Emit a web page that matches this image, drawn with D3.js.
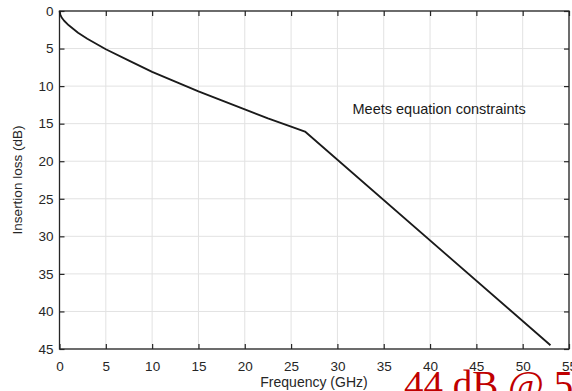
<!DOCTYPE html>
<html>
<head>
<meta charset="utf-8">
<script src="https://cdn.jsdelivr.net/npm/d3@7"></script>
<style>
  body { margin: 0; background: #fff; overflow: hidden; }
  svg { display: block; font-family: "Liberation Sans", Arial, sans-serif; }
</style>
</head>
<body>
<div id="chart"></div>
<script>
// insertion loss curve (GHz, dB)
const freq = [0, 0.1, 0.25, 0.5, 1, 1.5, 2, 3, 4, 5, 7.5, 10, 12.5, 15, 17.5, 20, 22.5, 25, 26.5, 53];
const loss = [0, 0.5, 0.9, 1.3, 1.9, 2.4, 2.9, 3.7, 4.4, 5.1, 6.6, 8.1, 9.4, 10.7, 11.9, 13.1, 14.3, 15.4, 16.05, 44.5];
const xTicks = [0, 5, 10, 15, 20, 25, 30, 35, 40, 45, 50, 55];
const yTicks = [0, 5, 10, 15, 20, 25, 30, 35, 40, 45];

const data = freq.map((f, i) => ({f: f, v: loss[i]}));

// set the dimensions and margins of the graph
const margin = {top: 11, right: 3, bottom: 42, left: 59.5};
const width = 572 - margin.left - margin.right;
const height = 391 - margin.top - margin.bottom;

const svg = d3.select("#chart")
  .append("svg")
    .attr("width", 572)
    .attr("height", 391);

const g = svg.append("g")
    .attr("transform", `translate(${margin.left},${margin.top})`);

const x = d3.scaleLinear().domain([0, 55]).range([0, width]);
const y = d3.scaleLinear().domain([0, 45]).range([0, height]);

// grid
g.append("g")
  .selectAll("line")
  .data(xTicks)
  .join("line")
    .attr("x1", d => x(d)).attr("x2", d => x(d))
    .attr("y1", 0).attr("y2", height)
    .attr("stroke", "#e2e2e2");
g.append("g")
  .selectAll("line")
  .data(yTicks)
  .join("line")
    .attr("y1", d => y(d)).attr("y2", d => y(d))
    .attr("x1", 0).attr("x2", width)
    .attr("stroke", "#e2e2e2");

// axes
const axisColor = "#262626";
const styleAxis = sel => {
  sel.select(".domain").remove();
  sel.selectAll(".tick line").attr("stroke", axisColor).attr("stroke-width", 1.2);
  sel.selectAll(".tick text").attr("fill", axisColor).style("font-size", "13.5px");
};

g.append("g")
  .attr("transform", `translate(0,${height})`)
  .call(d3.axisBottom(x).tickValues(xTicks).tickSizeInner(-5).tickSizeOuter(0).tickPadding(12))
  .call(styleAxis);

g.append("g")
  .call(d3.axisTop(x).tickValues(xTicks).tickSizeInner(-5).tickSizeOuter(0).tickFormat(""))
  .call(styleAxis);

g.append("g")
  .call(d3.axisLeft(y).tickValues(yTicks).tickSizeInner(-5).tickSizeOuter(0).tickPadding(6))
  .call(styleAxis);

g.append("g")
  .attr("transform", `translate(${width},0)`)
  .call(d3.axisRight(y).tickValues(yTicks).tickSizeInner(-5).tickSizeOuter(0).tickFormat(""))
  .call(styleAxis);

// box
g.append("rect")
  .attr("width", width)
  .attr("height", height)
  .attr("fill", "none")
  .attr("stroke", axisColor)
  .attr("stroke-width", 1.3);

// curve
g.append("path")
  .datum(data)
  .attr("fill", "none")
  .attr("stroke", "#1a1a1a")
  .attr("stroke-width", 1.8)
  .attr("stroke-linejoin", "round")
  .attr("d", d3.line().x(d => x(d.f)).y(d => y(d.v)));

// annotation
g.append("text")
  .attr("x", 293)
  .attr("y", 103)
  .style("font-size", "14.5px")
  .attr("fill", "#1a1a1a")
  .text("Meets equation constraints");

// axis labels
svg.append("text")
  .attr("x", 314)
  .attr("y", 387)
  .attr("text-anchor", "middle")
  .style("font-size", "14px")
  .attr("fill", axisColor)
  .text("Frequency (GHz)");

svg.append("text")
  .attr("transform", "translate(22,180)rotate(-90)")
  .attr("text-anchor", "middle")
  .style("font-size", "13.5px")
  .attr("fill", axisColor)
  .text("Insertion loss (dB)");

// red overlay note, cut off by the frame
svg.append("text")
  .attr("x", 404)
  .attr("y", 398)
  .style("font-family", "'Liberation Serif', 'Times New Roman', serif")
  .style("font-size", "39px")
  .attr("fill", "#c00000")
  .text("44 dB @ 53 GHz");
</script>
</body>
</html>
